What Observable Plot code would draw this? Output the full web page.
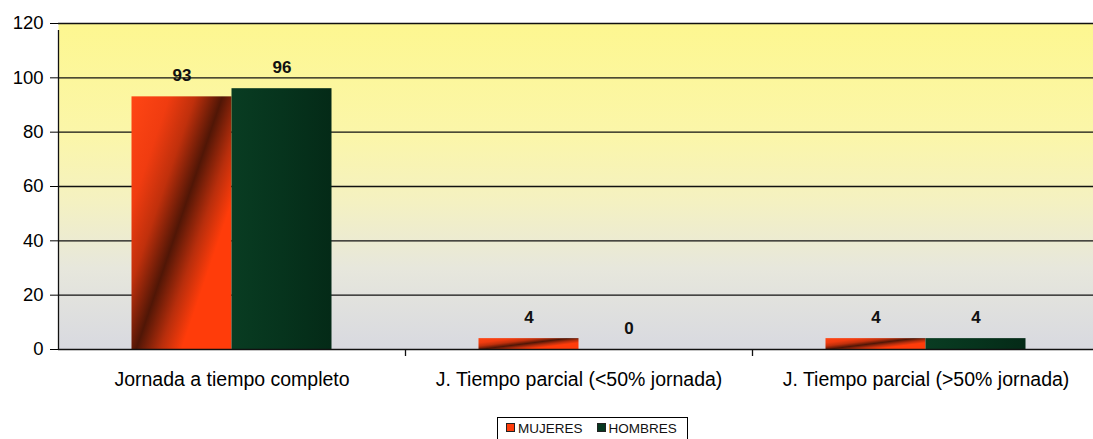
<!DOCTYPE html>
<html>
<head>
<meta charset="utf-8">
<script src="https://cdn.jsdelivr.net/npm/d3@7"></script>
<script src="https://cdn.jsdelivr.net/npm/@observablehq/plot@0.6"></script>
<style>
  body { margin: 0; background: #fff; font-family: "Liberation Sans", Arial, sans-serif; }
  #legend { position: relative; width: 1093px; height: 26px; }
  #legend .box { position: absolute; left: 497px; top: 4px; width: 191px; box-sizing: border-box; border: 1px solid #000; border-bottom: none; padding: 3px 0 4px 8px; font-size: 13.5px; white-space: nowrap; color: #111; }
  #legend .sw { display: inline-block; width: 7px; height: 7px; border: 1.5px solid #222; margin-right: 3px; vertical-align: 1px; }
</style>
</head>
<body>
<div id="chart"></div>
<div id="legend"></div>
<script>
const categories = ["Jornada a tiempo completo", "J. Tiempo parcial (<50% jornada)", "J. Tiempo parcial (>50% jornada)"];
const series = ["MUJERES", "HOMBRES"];
const mujeres = [93, 4, 4];
const hombres = [96, 0, 4];
const yTicks = [0, 20, 40, 60, 80, 100, 120];

const data = [];
categories.forEach((c, i) => {
  data.push({cat: c, serie: series[0], value: mujeres[i]});
  data.push({cat: c, serie: series[1], value: hombres[i]});
});
const muj = data.filter(d => d.serie === series[0]);
const hom = data.filter(d => d.serie === series[1]);

const half = 347 / 2;
const svg = Plot.plot({
  width: 1093,
  height: 413,
  marginTop: 23,
  marginBottom: 64,
  marginLeft: 58,
  marginRight: 0,
  style: {fontFamily: "'Liberation Sans', Arial, sans-serif", fontSize: "16px", background: "transparent", color: "#000"},
  x: {domain: categories, range: [58, 1099], padding: 0, label: null},
  y: {domain: [0, 120], label: null},
  marks: [
    Plot.frame({fill: "url(#bgGrad)", stroke: null}),
    Plot.ruleY(yTicks.filter(t => t > 0), {stroke: "#111", strokeWidth: 1.3}),
    Plot.barY(muj, {x: "cat", y: "value", fill: "url(#redGrad)", insetLeft: half - 100, insetRight: half}),
    Plot.barY(hom, {x: "cat", y: "value", fill: "url(#greenGrad)", insetLeft: half, insetRight: half - 100}),
    Plot.ruleY([0], {stroke: "#111", strokeWidth: 1.3}),
    Plot.ruleX(categories, {x: d => d, dx: -half, y1: 0, y2: d => d === categories[0] ? 120 : 0, insetBottom: -7, stroke: "#111", strokeWidth: 1.3}),
    Plot.text(muj, {x: "cat", y: "value", text: d => String(d.value), dx: -50, dy: -21, fontSize: 17, fontWeight: 600, fill: "#111"}),
    Plot.text(hom, {x: "cat", y: "value", text: d => String(d.value), dx: 50, dy: -21, fontSize: 17, fontWeight: 600, fill: "#111"}),
    Plot.axisY({ticks: yTicks, tickSize: 8, tickPadding: 7, fontSize: 18.5, tickFormat: d => String(d)}),
    Plot.axisX({tickSize: 0, tickPadding: 23, fontSize: 19.5, style: {letterSpacing: "0.6px"}})
  ]
});

const defs = d3.select(svg).insert("defs", ":first-child");
const bg = defs.append("linearGradient").attr("id", "bgGrad").attr("x1", 0).attr("y1", 0).attr("x2", 0).attr("y2", 1);
[[0, "#fdf790"], [0.35, "#fbf6aa"], [0.55, "#f4f1c2"], [0.75, "#e7e7dc"], [1, "#d8d9e0"]].forEach(([o, c]) => bg.append("stop").attr("offset", o).attr("stop-color", c));
const rg = defs.append("linearGradient").attr("id", "redGrad").attr("x1", 0).attr("y1", 0).attr("x2", 0.87).attr("y2", 0.75);
[[0, "#ff4614"], [0.25, "#f03c10"], [0.42, "#c0300c"], [0.6, "#501606"], [0.76, "#b82e0c"], [0.9, "#ff3c0a"], [1, "#ff3c0a"]].forEach(([o, c]) => rg.append("stop").attr("offset", o).attr("stop-color", c));
const gg = defs.append("linearGradient").attr("id", "greenGrad").attr("x1", 0).attr("y1", 0).attr("x2", 1).attr("y2", 0);
[[0, "#093c22"], [0.5, "#06341d"], [1, "#042a17"]].forEach(([o, c]) => gg.append("stop").attr("offset", o).attr("stop-color", c));

document.getElementById("chart").appendChild(svg);

const legendColors = ["#ff3c0a", "#073720"];
document.getElementById("legend").innerHTML =
  '<div class="box">' + series.map((s, i) =>
    '<span style="margin-right:' + (i === 0 ? 14 : 0) + 'px"><span class="sw" style="background:' + legendColors[i] + '"></span>' + s + '</span>'
  ).join("") + '</div>';
</script>
</body>
</html>
